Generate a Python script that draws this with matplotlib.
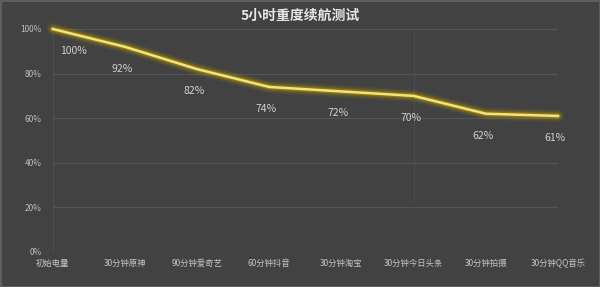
import matplotlib
matplotlib.use("Agg")
import matplotlib.pyplot as plt

plt.rcParams['font.family'] = ['Noto Sans CJK SC', 'DejaVu Sans']

categories = ['初始电量', '30分钟原神', '90分钟爱奇艺', '60分钟抖音',
              '30分钟淘宝', '30分钟今日头条', '30分钟拍摄', '30分钟QQ音乐']
battery = [100, 92, 82, 74, 72, 70, 62, 61]
yticks = [0, 20, 40, 60, 80, 100]

bg = '#424242'
fig = plt.figure(figsize=(6, 2.87), dpi=100, facecolor=bg)
fig.patch.set_edgecolor('#5e5e5e')
fig.patch.set_linewidth(2)
ax = fig.add_axes([0.088, 0.122, 0.842, 0.777])
ax.set_facecolor(bg)

x = list(range(len(categories)))

# grid
for v in yticks[1:]:
    ax.axhline(v, color='#555555', lw=0.8, zorder=1)
ax.vlines(0, 0, 100, color='#4d4d4d', lw=0.8, zorder=1)
ax.vlines(5, 23, 100, color='#4d4d4d', lw=0.8, zorder=1)

# glowing line
for w, a in [(9, 0.08), (7, 0.12), (5, 0.2), (3.5, 0.35)]:
    ax.plot(x, battery, color='#c0a000', lw=w, alpha=a, solid_capstyle='round',
            solid_joinstyle='round', clip_on=False, zorder=2)
ax.plot(x, battery, color='#f4e27c', lw=1.8, clip_on=False, zorder=3)

for i, v in enumerate(battery):
    if i == 0:
        ax.annotate(f'{v}%', (i, v), xytext=(7, -22), textcoords='offset pixels',
                    ha='left', va='center', color='#d0d0d0', fontsize=7.5)
    else:
        ax.annotate(f'{v}%', (i, v), xytext=(-3, -22), textcoords='offset pixels',
                    ha='center', va='center', color='#d0d0d0', fontsize=7.5)

ax.set_xlim(0, 7)
ax.set_ylim(0, 100)
ax.set_yticks(yticks)
ax.set_yticklabels([f'{t}%' for t in yticks], color='#bdbdbd', fontsize=6)
ax.set_xticks(x)
ax.set_xticklabels(categories, color='#c4c4c4', fontsize=6)
ax.tick_params(length=0, pad=8)
ax.tick_params(axis='x', pad=5)
for s in ax.spines.values():
    s.set_visible(False)

fig.text(0.5, 0.945, '5小时重度续航测试', ha='center', va='center',
         color='#e6e6e6', fontsize=10, fontweight='bold')

fig.savefig('out.png', dpi=100, facecolor=bg, edgecolor=fig.patch.get_edgecolor())
